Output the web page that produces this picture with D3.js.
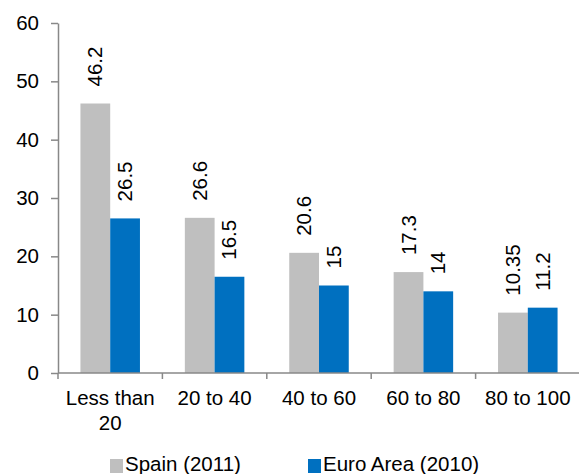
<!DOCTYPE html>
<html>
<head>
<meta charset="utf-8">
<script src="https://cdn.jsdelivr.net/npm/d3@7"></script>
<style>
  body { margin: 0; background: #fff; }
  svg text { font-family: "Liberation Sans", Arial, sans-serif; fill: #000; }
</style>
</head>
<body>
<svg width="579" height="474"></svg>
<script>
// chart data
var categories = ["Less than 20", "20 to 40", "40 to 60", "60 to 80", "80 to 100"];
var catLines = [["Less than", "20"], ["20 to 40"], ["40 to 60"], ["60 to 80"], ["80 to 100"]];
var seriesNames = ["Spain (2011)", "Euro Area (2010)"];
var spain = [46.2, 26.6, 20.6, 17.3, 10.35];
var euroArea = [26.5, 16.5, 15, 14, 11.2];
var spainLabels = ["46.2", "26.6", "20.6", "17.3", "10.35"];
var euroLabels = ["26.5", "16.5", "15", "14", "11.2"];
var yTicks = [0, 10, 20, 30, 40, 50, 60];

var colors = ["#BFBFBF", "#0070C0"];
var axisColor = "#888888";
var fontSize = "20.5px";

var svg = d3.select("svg");
var plotLeft = 58, plotRight = 580, plotTop = 23, plotBottom = 373;

var x0 = d3.scaleBand().domain(categories).range([plotLeft, plotRight]).paddingInner(0).paddingOuter(0);
var x1 = d3.scaleBand().domain(seriesNames)
    .range([x0.bandwidth() * 0.215, x0.bandwidth() * 0.785]);
var y = d3.scaleLinear().domain([0, 60]).range([plotBottom, plotTop]);

var rows = categories.map(function(c, i) {
  return { cat: c, values: [
    { s: seriesNames[0], v: spain[i], label: spainLabels[i] },
    { s: seriesNames[1], v: euroArea[i], label: euroLabels[i] }
  ]};
});

// y axis
var yAxis = svg.append("g")
    .attr("transform", "translate(" + plotLeft + ",0)")
    .call(d3.axisLeft(y).tickValues(yTicks).tickSize(7).tickSizeOuter(0).tickPadding(12));
yAxis.selectAll("path, line").attr("stroke", axisColor).attr("stroke-width", 1.5);
yAxis.selectAll("text").style("font-size", fontSize).style("font-family", "Liberation Sans, Arial, sans-serif").attr("fill", "#000");

// bars
var groups = svg.selectAll("g.grp")
    .data(rows)
  .enter().append("g")
    .attr("class", "grp")
    .attr("transform", function(d) { return "translate(" + x0(d.cat) + ",0)"; });

groups.selectAll("rect")
    .data(function(d) { return d.values; })
  .enter().append("rect")
    .attr("x", function(d) { return x1(d.s); })
    .attr("width", x1.bandwidth())
    .attr("y", function(d) { return y(d.v); })
    .attr("height", function(d) { return plotBottom - y(d.v); })
    .style("fill", function(d, i) { return colors[i]; });

// value labels, rotated
groups.selectAll("text.val")
    .data(function(d) { return d.values; })
  .enter().append("text")
    .attr("class", "val")
    .attr("transform", function(d) {
      return "translate(" + (x1(d.s) + x1.bandwidth() / 2 + 7) + "," + (y(d.v) - 17) + ") rotate(-90)";
    })
    .style("font-size", fontSize)
    .text(function(d) { return d.label; });

// x axis line and boundary ticks
svg.append("line")
    .attr("x1", plotLeft).attr("x2", plotRight)
    .attr("y1", plotBottom).attr("y2", plotBottom)
    .attr("stroke", axisColor).attr("stroke-width", 1.5);

svg.selectAll("line.xtick")
    .data(categories)
  .enter().append("line")
    .attr("class", "xtick")
    .attr("x1", function(d) { return x0(d); })
    .attr("x2", function(d) { return x0(d); })
    .attr("y1", plotBottom).attr("y2", plotBottom + 6)
    .attr("stroke", axisColor).attr("stroke-width", 1.5);

// category labels
var xl = svg.selectAll("text.cat")
    .data(categories)
  .enter().append("text")
    .attr("class", "cat")
    .attr("text-anchor", "middle")
    .style("font-size", fontSize)
    .attr("x", function(d) { return x0(d) + x0.bandwidth() / 2; })
    .attr("y", 405);
xl.selectAll("tspan")
    .data(function(d, i) { return catLines[i]; })
  .enter().append("tspan")
    .attr("x", function() { return d3.select(this.parentNode).attr("x"); })
    .attr("dy", function(d, i) { return i === 0 ? 0 : 25; })
    .text(function(d) { return d; });

// legend
var legendX = [110, 308];
var leg = svg.selectAll("g.leg")
    .data(seriesNames)
  .enter().append("g")
    .attr("class", "leg")
    .attr("transform", function(d, i) { return "translate(" + legendX[i] + ",459)"; });
leg.append("rect")
    .attr("width", 13).attr("height", 14)
    .style("fill", function(d, i) { return colors[i]; });
leg.append("text")
    .attr("x", 15).attr("y", 12)
    .style("font-size", fontSize)
    .text(function(d) { return d; });
</script>
</body>
</html>
